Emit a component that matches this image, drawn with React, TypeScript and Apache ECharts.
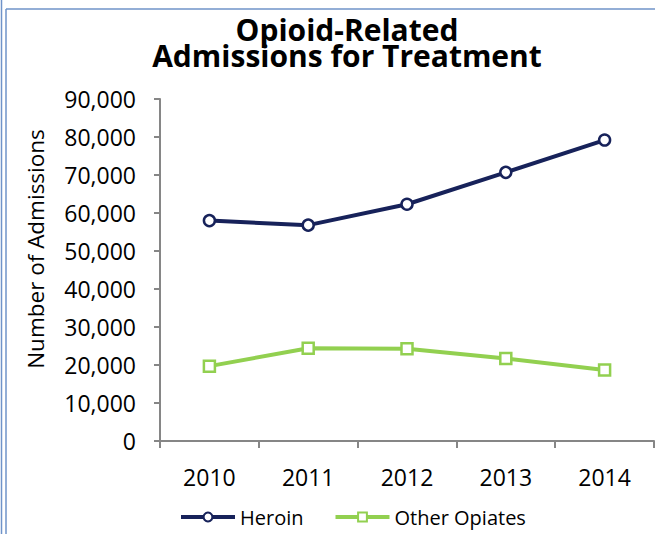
import React, { useEffect, useRef } from "react";
import * as echarts from "echarts";

const years = ["2010", "2011", "2012", "2013", "2014"];
const heroin = [58000, 56800, 62300, 70700, 79200];
const otherOpiates = [19700, 24400, 24300, 21700, 18700];
const seriesNames = ["Heroin", "Other Opiates"];
const titleLines = ["Opioid-Related", "Admissions for Treatment"];
const yAxisName = "Number of Admissions";

const FONT = "'Open Sans', 'Liberation Sans', sans-serif";

export default function App() {
  const ref = useRef<HTMLDivElement>(null);
  useEffect(() => {
    if (!ref.current) return;
    const chart = echarts.init(ref.current, undefined, { renderer: "svg" });
    const titleStyle = {
      fontFamily: FONT,
      fontWeight: "bold",
      fontSize: 30,
      lineHeight: 24,
      color: "#000000",
    };
    chart.setOption({
      animation: false,
      backgroundColor: "#ffffff",
      title: [
        { text: titleLines[0], left: 347, textAlign: "center", top: 17, padding: 0, textStyle: titleStyle },
        { text: titleLines[1], left: 347, textAlign: "center", top: 43, padding: 0, textStyle: titleStyle },
      ],
      graphic: [
        { type: "line", shape: { x1: 1.5, y1: 0, x2: 1.5, y2: 534 }, style: { stroke: "#6f93c9", lineWidth: 1.5 } },
        { type: "line", shape: { x1: 6, y1: 9, x2: 6, y2: 534 }, style: { stroke: "#6f93c9", lineWidth: 1.5 } },
        { type: "line", shape: { x1: 6, y1: 9, x2: 655, y2: 9 }, style: { stroke: "#6f93c9", lineWidth: 1.5 } },
        {
          type: "text",
          x: 35,
          y: 249,
          rotation: Math.PI / 2,
          style: {
            text: yAxisName,
            fontFamily: FONT,
            fontSize: 22.5,
            fill: "#000000",
            align: "center",
            verticalAlign: "middle",
          },
        },
      ],
      legend: {
        data: seriesNames,
        left: 174,
        top: 502,
        itemWidth: 54,
        itemHeight: 11,
        itemGap: 30,
        lineStyle: { width: 4 },
        textStyle: { fontFamily: FONT, fontSize: 20, color: "#000000" },
      },
      grid: { left: 160, right: 1, top: 99, bottom: 93 },
      xAxis: {
        type: "category",
        data: years,
        boundaryGap: true,
        axisLine: { lineStyle: { color: "#868686", width: 2 } },
        axisTick: { show: true, length: 7, lineStyle: { color: "#868686", width: 2 } },
        axisLabel: { fontFamily: FONT, fontSize: 23, color: "#000000", margin: 24 },
        splitLine: { show: false },
      },
      yAxis: {
        type: "value",
        min: 0,
        max: 90000,
        interval: 10000,
        axisLine: { show: true, lineStyle: { color: "#868686", width: 2 } },
        axisTick: { show: true, length: 6, lineStyle: { color: "#868686", width: 2 } },
        axisLabel: {
          fontFamily: FONT,
          fontSize: 23,
          color: "#000000",
          margin: 24,
          formatter: (v: number) => v.toLocaleString("en-US"),
        },
        splitLine: { show: false },
      },
      series: [
        {
          name: seriesNames[0],
          type: "line",
          data: heroin,
          symbol: "circle",
          symbolSize: 11,
          lineStyle: { color: "#17225a", width: 4 },
          itemStyle: { color: "#ffffff", borderColor: "#17225a", borderWidth: 2.5 },
        },
        {
          name: seriesNames[1],
          type: "line",
          data: otherOpiates,
          symbol: "rect",
          symbolSize: 11,
          lineStyle: { color: "#92d050", width: 4 },
          itemStyle: { color: "#ffffff", borderColor: "#92d050", borderWidth: 2.5 },
        },
      ],
    });
    return () => chart.dispose();
  }, []);
  return (
    <div
      ref={ref}
      style={{ position: "fixed", left: 0, top: 0, width: 655, height: 534 }}
    />
  );
}
